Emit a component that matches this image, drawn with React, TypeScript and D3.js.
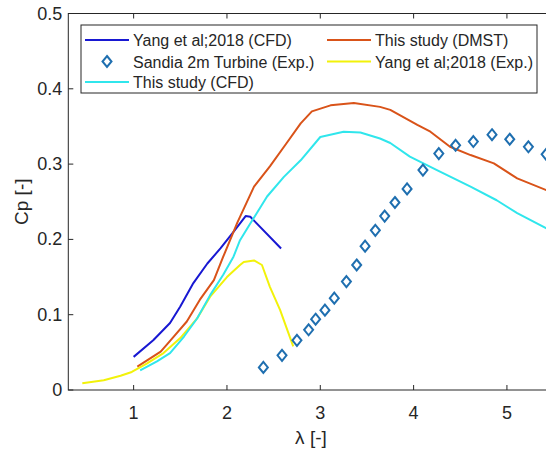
import { useEffect, useRef } from 'react';
import * as d3 from 'd3';

// Yang et al;2018 (CFD)
const yangCfdTsr = [1.0, 1.21, 1.39, 1.5, 1.64, 1.79, 1.93, 2.07, 2.2, 2.25, 2.58];
const yangCfdCp = [0.044, 0.066, 0.089, 0.111, 0.142, 0.168, 0.188, 0.21, 0.231, 0.23, 0.188];

// This study (DMST)
const dmstTsr = [1.04, 1.29, 1.43, 1.57, 1.71, 1.86, 1.96, 2.11, 2.29, 2.46, 2.64, 2.79, 2.91, 3.11, 3.36, 3.64, 3.75, 4.04, 4.18, 4.39, 4.61, 4.86, 5.11, 5.45];
const dmstCp = [0.031, 0.051, 0.071, 0.091, 0.12, 0.146, 0.177, 0.222, 0.27, 0.297, 0.328, 0.354, 0.37, 0.378, 0.381, 0.376, 0.372, 0.352, 0.343, 0.323, 0.312, 0.301, 0.281, 0.264];

// Sandia 2m Turbine (Exp.)
const sandiaTsr = [2.39, 2.59, 2.75, 2.875, 2.95, 3.05, 3.15, 3.28, 3.39, 3.48, 3.59, 3.69, 3.8, 3.93, 4.1, 4.27, 4.45, 4.64, 4.84, 5.03, 5.23, 5.42];
const sandiaCp = [0.03, 0.046, 0.066, 0.08, 0.094, 0.106, 0.122, 0.144, 0.166, 0.191, 0.212, 0.231, 0.249, 0.267, 0.292, 0.314, 0.325, 0.33, 0.339, 0.333, 0.323, 0.313];

// Yang et al;2018 (Exp.)
const yangExpTsr = [0.45, 0.68, 0.86, 0.98, 1.14, 1.32, 1.5, 1.68, 1.82, 2.0, 2.14, 2.18, 2.29, 2.375, 2.46, 2.57, 2.71];
const yangExpCp = [0.009, 0.013, 0.019, 0.024, 0.035, 0.049, 0.069, 0.095, 0.124, 0.15, 0.166, 0.17, 0.172, 0.166, 0.137, 0.106, 0.058];

// This study (CFD)
const cfdTsr = [1.07, 1.25, 1.39, 1.54, 1.68, 1.82, 1.96, 2.07, 2.14, 2.25, 2.43, 2.61, 2.79, 3.0, 3.25, 3.43, 3.64, 3.75, 3.96, 4.25, 4.61, 4.89, 5.11, 5.45];
const cfdCp = [0.026, 0.038, 0.049, 0.071, 0.095, 0.126, 0.153, 0.177, 0.199, 0.221, 0.257, 0.283, 0.305, 0.336, 0.343, 0.342, 0.334, 0.328, 0.31, 0.292, 0.27, 0.252, 0.235, 0.213];

const xTicks = [1, 2, 3, 4, 5];
const yTicks = [0, 0.1, 0.2, 0.3, 0.4, 0.5];

const zip = (xs: number[], ys: number[]) => xs.map((x, i) => [x, ys[i]] as [number, number]);

const FONT = '"Liberation Sans", Arial, Helvetica, sans-serif';
const AXIS = '#262626';

function CpChart() {
  const svgRef = useRef<SVGSVGElement>(null);

  useEffect(() => {
    const svg = d3.select(svgRef.current);
    svg.selectAll('*').remove();

    const left = 68.3, top = 13.5, bottom = 390, right = 553.6;

    const x = d3.scaleLinear().domain([0.3, 5.5]).range([left, right]);
    const y = d3.scaleLinear().domain([0, 0.5]).range([bottom, top]);

    svg.append('clipPath').attr('id', 'plot-clip')
      .append('rect')
      .attr('x', left).attr('y', top)
      .attr('width', right - left).attr('height', bottom - top);

    // Box + ticks (inward, MATLAB style)
    const tickLen = 5;
    const axes = svg.append('g').attr('stroke', AXIS).attr('stroke-width', 1).attr('fill', 'none');
    axes.append('rect')
      .attr('x', left).attr('y', top)
      .attr('width', right - left).attr('height', bottom - top);
    xTicks.forEach(t => {
      axes.append('line').attr('x1', x(t)).attr('x2', x(t)).attr('y1', bottom).attr('y2', bottom - tickLen);
      axes.append('line').attr('x1', x(t)).attr('x2', x(t)).attr('y1', top).attr('y2', top + tickLen);
    });
    yTicks.forEach(t => {
      axes.append('line').attr('x1', left).attr('x2', left + tickLen).attr('y1', y(t)).attr('y2', y(t));
      axes.append('line').attr('x1', right).attr('x2', right - tickLen).attr('y1', y(t)).attr('y2', y(t));
    });

    // Tick labels
    svg.append('g').selectAll('text').data(xTicks).join('text')
      .attr('x', d => x(d)).attr('y', bottom + 29)
      .attr('text-anchor', 'middle')
      .attr('font-family', FONT).attr('font-size', 18).attr('fill', AXIS)
      .text(d => d);
    svg.append('g').selectAll('text').data(yTicks).join('text')
      .attr('x', left - 6).attr('y', d => y(d) + 6)
      .attr('text-anchor', 'end')
      .attr('font-family', FONT).attr('font-size', 18).attr('fill', AXIS)
      .text(d => (d === 0 ? '0' : d3.format('.1f')(d)));

    // Axis labels
    svg.append('text')
      .attr('x', (left + right) / 2).attr('y', 444)
      .attr('text-anchor', 'middle')
      .attr('font-family', FONT).attr('font-size', 19).attr('fill', AXIS)
      .text('λ [-]');
    svg.append('text')
      .attr('transform', `translate(28,${(top + bottom) / 2}) rotate(-90)`)
      .attr('text-anchor', 'middle')
      .attr('font-family', FONT).attr('font-size', 19).attr('fill', AXIS)
      .text('Cp [-]');

    const line = d3.line<[number, number]>()
      .x(d => x(d[0]))
      .y(d => y(d[1]));

    const plot = svg.append('g').attr('clip-path', 'url(#plot-clip)');

    const series = [
      { pts: zip(yangCfdTsr, yangCfdCp), color: '#1818d2' },
      { pts: zip(dmstTsr, dmstCp), color: '#d95319' },
      { pts: zip(yangExpTsr, yangExpCp), color: '#f2f20a' },
      { pts: zip(cfdTsr, cfdCp), color: '#30e6ec' },
    ];
    series.forEach(s => {
      plot.append('path')
        .datum(s.pts)
        .attr('fill', 'none')
        .attr('stroke', s.color)
        .attr('stroke-width', 2)
        .attr('stroke-linejoin', 'round')
        .attr('d', line);
    });

    const diamond = (cx: number, cy: number) =>
      `M${cx},${cy - 5.5}L${cx + 4.5},${cy}L${cx},${cy + 5.5}L${cx - 4.5},${cy}Z`;

    plot.append('g').selectAll('path').data(zip(sandiaTsr, sandiaCp)).join('path')
      .attr('d', d => diamond(x(d[0]), y(d[1])))
      .attr('fill', 'none')
      .attr('stroke', '#1f6fb0')
      .attr('stroke-width', 2);

    // Legend
    const lg = svg.append('g');
    lg.append('rect')
      .attr('x', 81).attr('y', 25).attr('width', 456).attr('height', 68)
      .attr('fill', '#fff').attr('stroke', AXIS).attr('stroke-width', 1);

    const entries = [
      { label: 'Yang et al;2018 (CFD)', color: '#1818d2', col: 0, row: 0, marker: false },
      { label: 'This study (DMST)', color: '#d95319', col: 1, row: 0, marker: false },
      { label: 'Sandia 2m Turbine (Exp.)', color: '#1f6fb0', col: 0, row: 1, marker: true },
      { label: 'Yang et al;2018 (Exp.)', color: '#f2f20a', col: 1, row: 1, marker: false },
      { label: 'This study (CFD)', color: '#30e6ec', col: 0, row: 2, marker: false },
    ];
    const colX = [85, 327];
    const rowY = [40, 61.5, 82];
    entries.forEach(e => {
      const x0 = colX[e.col];
      const yy = rowY[e.row];
      if (e.marker) {
        lg.append('path')
          .attr('d', diamond(x0 + 22, yy))
          .attr('fill', 'none').attr('stroke', e.color).attr('stroke-width', 2);
      } else {
        lg.append('line')
          .attr('x1', x0).attr('x2', x0 + 44).attr('y1', yy).attr('y2', yy)
          .attr('stroke', e.color).attr('stroke-width', 2);
      }
      lg.append('text')
        .attr('x', x0 + 48).attr('y', yy + 6)
        .attr('font-family', FONT).attr('font-size', 16).attr('fill', AXIS)
        .text(e.label);
    });
  }, []);

  return (
    <svg
      ref={svgRef}
      width={546}
      height={450}
      style={{ position: 'absolute', left: 0, top: 0, background: '#fff' }}
    />
  );
}

export default function App() {
  return <CpChart />;
}
